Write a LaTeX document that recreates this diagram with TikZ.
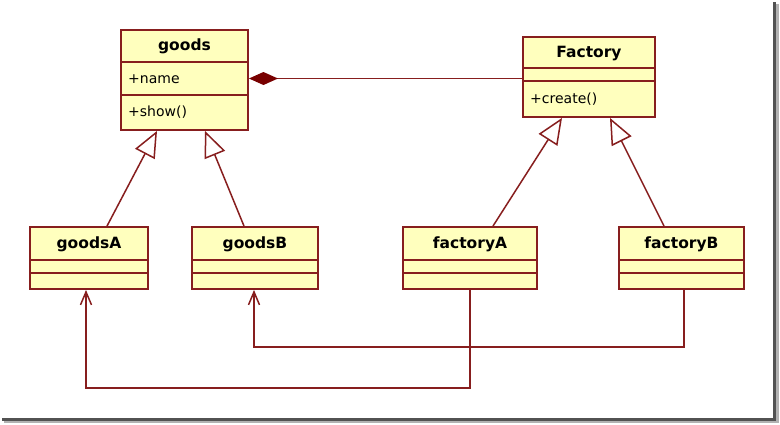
\documentclass[tikz,border=0pt]{standalone}
\usepackage{fontspec}
\setmainfont{DejaVu Sans}
\usetikzlibrary{arrows.meta}
\definecolor{umlline}{RGB}{135,30,30}
\definecolor{umlfill}{RGB}{255,255,190}
\definecolor{umldia}{RGB}{120,0,0}
\begin{document}
\begin{tikzpicture}[x=1pt,y=-1pt,
  cls/.style={draw=umlline, fill=umlfill, line width=1.9pt, rectangle, inner sep=0pt},
  ttl/.style={font=\fontsize{15.5}{18}\selectfont\bfseries, inner sep=0pt, text height=11pt, text depth=3pt},
  mem/.style={font=\fontsize{14}{16}\selectfont, inner sep=0pt, anchor=west, text height=10.5pt, text depth=3pt},
  sep/.style={draw=umlline, line width=1.8pt},
  gen/.style={draw=umlline, line width=1.5pt, -{Triangle[open, length=26pt, width=22pt, line width=1.5pt]}},
  dep/.style={draw=umlline, line width=1.6pt, -{Straight Barb[length=13pt, width=11pt, line width=1.5pt]}},
  comp/.style={draw=umlline, line width=1.6pt, {Diamond[length=29pt, width=13pt, fill=umldia, color=umldia]}-}
]
\useasboundingbox (0,0) rectangle (780,424);
\fill[white] (0,0) rectangle (780,424);
% window shadow
\fill[black!30] (776,4) rectangle (779,423);
\fill[black!30] (4,421) rectangle (779,423);
\fill[black!68] (773,2) rectangle (776,421);
\fill[black!68] (2,418) rectangle (776,421);

% goods
\node[cls, minimum width=127pt, minimum height=100pt] (goods) at (184.5,80) {};
\node[ttl] (goodsT) at (184.5,46.5) {goods};
\draw[sep] ([yshift=-33pt]goods.north west) -- ([yshift=-33pt]goods.north east);
\draw[sep] ([yshift=-66pt]goods.north west) -- ([yshift=-66pt]goods.north east);
\node[mem] (goodsN) at (128,80) {+name};
\node[mem] (goodsS) at (128,113) {+show()};

% Factory
\node[cls, minimum width=132pt, minimum height=80pt] (Factory) at (589,77) {};
\node[ttl] (FactoryT) at (589,53) {Factory};
\draw[sep] ([yshift=-32pt]Factory.north west) -- ([yshift=-32pt]Factory.north east);
\draw[sep] ([yshift=-45pt]Factory.north west) -- ([yshift=-45pt]Factory.north east);
\node[mem] (FactoryC) at (530,99.5) {+create()};

% subclasses
\foreach \n/\t/\cx/\w in {goodsA/goodsA/89/118, goodsB/goodsB/255/126, factoryA/factoryA/470/134, factoryB/factoryB/681.5/125}{
  \node[cls, minimum width=\w pt, minimum height=62pt] (\n) at (\cx,258) {};
  \node[ttl] (\n T) at (\cx,244) {\t};
  \draw[sep] ([yshift=-34pt]\n.north west) -- ([yshift=-34pt]\n.north east);
  \draw[sep] ([yshift=-47pt]\n.north west) -- ([yshift=-47pt]\n.north east);
}

% composition
\draw[comp] ([yshift=1.5pt]goods.east) -- ([yshift=1.5pt]goods.east -| Factory.west);

% generalizations
\draw[gen] ([xshift=18pt]goodsA.north) -- ([xshift=-27.5pt]goods.south);
\draw[gen] ([xshift=-11pt]goodsB.north) -- ([xshift=20.5pt]goods.south);
\draw[gen] ([xshift=23pt]factoryA.north) -- ([xshift=-27pt]Factory.south);
\draw[gen] ([xshift=-17.5pt]factoryB.north) -- ([xshift=21pt]Factory.south);

% dependencies
\coordinate (dA) at (86,388);
\coordinate (dB) at (254,347);
\draw[dep] (factoryA.south) |- (dA) -- ([xshift=-3pt]goodsA.south);
\draw[dep] ([xshift=2.5pt]factoryB.south) |- (dB) -- ([xshift=-1pt]goodsB.south);
\end{tikzpicture}
\end{document}
